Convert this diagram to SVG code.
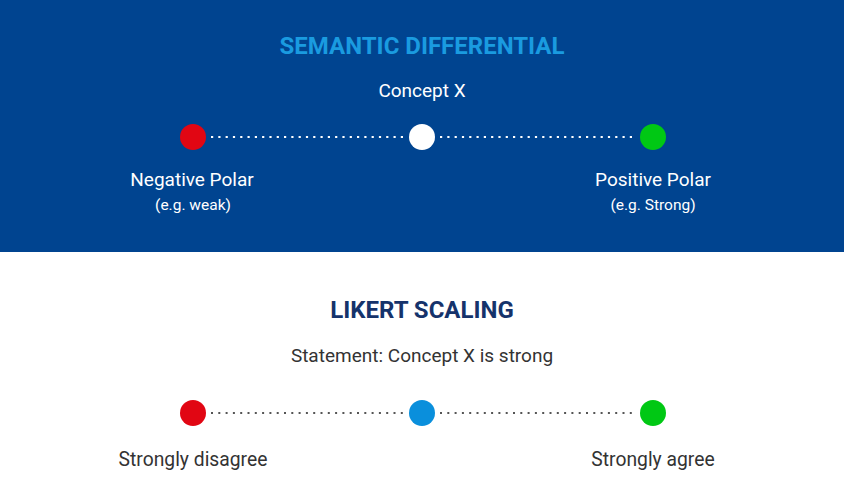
<svg xmlns="http://www.w3.org/2000/svg" width="844" height="504" viewBox="0 0 844 504">
<style>
text{font-family:Roboto,"Liberation Sans",sans-serif;text-anchor:middle}
.t1{font-size:24px;font-weight:700;fill:#1a9be0}
.t2{font-size:24px;font-weight:700;fill:#15336b}
.w{fill:#ffffff;font-size:19px}
.ws{fill:#ffffff;font-size:15.5px}
.d{fill:#333333;font-size:19.3px}
.s{fill:#333333;font-size:19px}
.dotw{stroke:#ffffff;stroke-width:2.2;stroke-dasharray:2.2 5.1;fill:none}
.dotd{stroke:#555555;stroke-width:2;stroke-dasharray:2 5.3;fill:none}
</style>
<rect x="0" y="0" width="844" height="252" fill="#004490"/>
<rect x="0" y="252" width="844" height="252" fill="#ffffff"/>
<text class="t1" x="422" y="54">SEMANTIC DIFFERENTIAL</text>
<text class="w" x="422" y="97">Concept X</text>
<g id="connectors">
<line class="dotw" x1="211" y1="137" x2="405" y2="137"/>
<line class="dotw" x1="440" y1="137" x2="636" y2="137"/>
<line class="dotd" x1="211" y1="413" x2="405" y2="413"/>
<line class="dotd" x1="440" y1="413" x2="636" y2="413"/>
</g>
<g id="neg"><circle cx="193" cy="137" r="13" fill="#e10613"/>
<text class="w" x="192" y="186">Negative Polar</text>
<text class="ws" x="193" y="210">(e.g. weak)</text></g>
<g id="concept"><circle cx="422" cy="137" r="13" fill="#ffffff"/></g>
<g id="pos"><circle cx="653" cy="137" r="13" fill="#00c814"/>
<text class="w" x="653" y="186">Positive Polar</text>
<text class="ws" x="653" y="210">(e.g. Strong)</text></g>
<text class="t2" x="422" y="318">LIKERT SCALING</text>
<text class="s" x="422" y="362">Statement: Concept X is strong</text>
<g id="disagree"><circle cx="193" cy="413" r="13" fill="#e10613"/>
<text class="d" x="193" y="466">Strongly disagree</text></g>
<g id="neutral"><circle cx="422" cy="413" r="13" fill="#0a8fdc"/></g>
<g id="agree"><circle cx="653" cy="413" r="13" fill="#00c814"/>
<text class="d" x="653" y="466">Strongly agree</text></g>
</svg>
